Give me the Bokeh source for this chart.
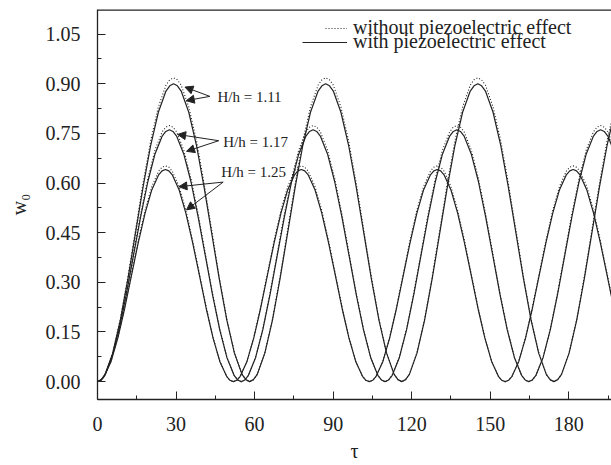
from bokeh.plotting import figure
from bokeh.embed import file_html
from bokeh.resources import INLINE
from bokeh.models import (Legend, LegendItem, Arrow, NormalHead, Label, Span,
                          SingleIntervalTicker, NumeralTickFormatter, Range1d)

# ---- data (tau, w0) ----
tau_111 = [0, 1.45, 2.9, 5.81, 8.72, 11.62, 14.53, 17.43, 20.34, 23.24, 26.15, 27.6, 29.05, 30.5, 31.96, 34.86, 37.77, 40.67, 43.58, 46.48, 49.39, 52.29, 55.2, 56.65,
           58.1, 59.55, 61.01, 63.91, 66.82, 69.72, 72.63, 75.53, 78.44, 81.34, 84.25, 85.7, 87.15, 88.6, 90.06, 92.96, 95.87, 98.77, 101.68, 104.58, 107.49, 110.39, 113.3, 114.75,
           116.2, 117.65, 119.11, 122.01, 124.92, 127.82, 130.73, 133.63, 136.54, 139.44, 142.35, 143.8, 145.25, 146.7, 148.16, 151.06, 153.97, 156.87, 159.78, 162.68, 165.59, 168.49, 171.4, 172.85,
           174.3, 175.75, 177.21, 180.11, 183.02, 185.92, 188.83, 191.73, 194.64, 197.54]
w_with_111 = [0, .006, .022, .086, .186, .311, .450, .589, .715, .814, .878, .894, .900, .894, .878, .814, .715, .589, .450, .311, .186, .086, .022, .006,
              0, .006, .022, .086, .186, .311, .450, .589, .715, .814, .878, .894, .900, .894, .878, .814, .715, .589, .450, .311, .186, .086, .022, .006,
              0, .006, .022, .086, .186, .311, .450, .589, .715, .814, .878, .894, .900, .894, .878, .814, .715, .589, .450, .311, .186, .086, .022, .006,
              0, .006, .022, .086, .186, .311, .450, .589, .715, .814]
w_without_111 = [0, .006, .022, .088, .189, .317, .459, .601, .729, .830, .896, .912, .918, .912, .896, .830, .729, .601, .459, .317, .189, .088, .022, .006,
                 0, .006, .022, .088, .189, .317, .459, .601, .729, .830, .896, .912, .918, .912, .896, .830, .729, .601, .459, .317, .189, .088, .022, .006,
                 0, .006, .022, .088, .189, .317, .459, .601, .729, .830, .896, .912, .918, .912, .896, .830, .729, .601, .459, .317, .189, .088, .022, .006,
                 0, .006, .022, .088, .189, .317, .459, .601, .729, .830]

tau_117 = [0, 1.37, 2.75, 5.49, 8.24, 10.98, 13.73, 16.47, 19.22, 21.96, 24.71, 26.08, 27.45, 28.82, 30.2, 32.94, 35.69, 38.43, 41.18, 43.92, 46.67, 49.41, 52.16, 53.53,
           54.9, 56.27, 57.65, 60.39, 63.14, 65.88, 68.63, 71.37, 74.12, 76.86, 79.61, 80.98, 82.35, 83.72, 85.1, 87.84, 90.59, 93.33, 96.08, 98.82, 101.57, 104.31, 107.06, 108.43,
           109.8, 111.17, 112.55, 115.29, 118.04, 120.78, 123.53, 126.27, 129.02, 131.76, 134.51, 135.88, 137.25, 138.62, 140.0, 142.74, 145.49, 148.23, 150.98, 153.72, 156.47, 159.21, 161.96, 163.33,
           164.7, 166.07, 167.45, 170.19, 172.94, 175.68, 178.43, 181.17, 183.92, 186.66, 189.41, 190.78, 192.15, 193.52, 194.9, 197.64]
w_with_117 = [0, .005, .019, .073, .157, .263, .381, .498, .604, .688, .742, .756, .761, .756, .742, .688, .604, .498, .381, .263, .157, .073, .019, .005,
              0, .005, .019, .073, .157, .263, .381, .498, .604, .688, .742, .756, .761, .756, .742, .688, .604, .498, .381, .263, .157, .073, .019, .005,
              0, .005, .019, .073, .157, .263, .381, .498, .604, .688, .742, .756, .761, .756, .742, .688, .604, .498, .381, .263, .157, .073, .019, .005,
              0, .005, .019, .073, .157, .263, .381, .498, .604, .688, .742, .756, .761, .756, .742, .688]
w_without_117 = [0, .005, .019, .074, .160, .267, .387, .507, .614, .700, .755, .769, .774, .769, .755, .700, .614, .507, .387, .267, .160, .074, .019, .005,
                 0, .005, .019, .074, .160, .267, .387, .507, .614, .700, .755, .769, .774, .769, .755, .700, .614, .507, .387, .267, .160, .074, .019, .005,
                 0, .005, .019, .074, .160, .267, .387, .507, .614, .700, .755, .769, .774, .769, .755, .700, .614, .507, .387, .267, .160, .074, .019, .005,
                 0, .005, .019, .074, .160, .267, .387, .507, .614, .700, .755, .769, .774, .769, .755, .700]

tau_125 = [0, 1.3, 2.6, 5.19, 7.79, 10.38, 12.98, 15.57, 18.17, 20.76, 23.36, 24.65, 25.95, 27.25, 28.55, 31.14, 33.74, 36.33, 38.93, 41.52, 44.12, 46.71, 49.31, 50.6,
           51.9, 53.2, 54.5, 57.09, 59.69, 62.28, 64.88, 67.47, 70.07, 72.66, 75.26, 76.55, 77.85, 79.15, 80.45, 83.04, 85.64, 88.23, 90.83, 93.42, 96.02, 98.61, 101.21, 102.5,
           103.8, 105.1, 106.4, 108.99, 111.59, 114.18, 116.78, 119.37, 121.97, 124.56, 127.16, 128.45, 129.75, 131.05, 132.35, 134.94, 137.54, 140.13, 142.73, 145.32, 147.92, 150.51, 153.11, 154.4,
           155.7, 157.0, 158.3, 160.89, 163.49, 166.08, 168.68, 171.27, 173.87, 176.46, 179.06, 180.35, 181.65, 182.95, 184.25, 186.84, 189.44, 192.03, 194.63, 197.22]
w_with_125 = [0, .004, .016, .061, .132, .221, .321, .420, .509, .580, .625, .637, .641, .637, .625, .580, .509, .420, .321, .221, .132, .061, .016, .004,
              0, .004, .016, .061, .132, .221, .321, .420, .509, .580, .625, .637, .641, .637, .625, .580, .509, .420, .321, .221, .132, .061, .016, .004,
              0, .004, .016, .061, .132, .221, .321, .420, .509, .580, .625, .637, .641, .637, .625, .580, .509, .420, .321, .221, .132, .061, .016, .004,
              0, .004, .016, .061, .132, .221, .321, .420, .509, .580, .625, .637, .641, .637, .625, .580, .509, .420, .321, .221]
w_without_125 = [0, .004, .016, .062, .134, .225, .326, .427, .518, .590, .636, .648, .652, .648, .636, .590, .518, .427, .326, .225, .134, .062, .016, .004,
                 0, .004, .016, .062, .134, .225, .326, .427, .518, .590, .636, .648, .652, .648, .636, .590, .518, .427, .326, .225, .134, .062, .016, .004,
                 0, .004, .016, .062, .134, .225, .326, .427, .518, .590, .636, .648, .652, .648, .636, .590, .518, .427, .326, .225, .134, .062, .016, .004,
                 0, .004, .016, .062, .134, .225, .326, .427, .518, .590, .636, .648, .652, .648, .636, .590, .518, .427, .326, .225]

series_labels = ["without piezoelectric effect", "with piezoelectric effect"]
ratio_labels = ["H/h = 1.11", "H/h = 1.17", "H/h = 1.25"]
label_pos_tau = [45.8, 48.0, 47.3]
label_pos_w = [0.859, 0.723, 0.633]
arrow_tail = [(42.9, 0.862), (46.3, 0.728), (48.0, 0.603)]
arrow_tips = [[(33.4, 0.890), (33.9, 0.849)],
              [(30.6, 0.747), (34.0, 0.696)],
              [(31.1, 0.589), (34.0, 0.519)]]
x_title = "\u03c4"
y_title = "w\u2080"

FONT = "Times New Roman"
INK = "#222222"

p = figure(width=611, height=465, output_backend="svg", toolbar_location=None,
           x_range=Range1d(0, 196.3), y_range=Range1d(-0.054, 1.1245),
           min_border_left=97, min_border_right=0, min_border_top=9, min_border_bottom=66)
p.outline_line_color = None
p.grid.visible = False

lines = {}
for key, t, ws, wo in [("111", tau_111, w_with_111, w_without_111),
                       ("117", tau_117, w_with_117, w_without_117),
                       ("125", tau_125, w_with_125, w_without_125)]:
    lines["wo" + key] = p.line(t, wo, line_color=INK, line_width=1.1, line_dash="1 2")
    lines["w" + key] = p.line(t, ws, line_color=INK, line_width=1.2)

# top frame line
p.add_layout(Span(location=1.1245, dimension="width", line_color=INK, line_width=2.5))

p.xaxis.ticker = SingleIntervalTicker(interval=30, num_minor_ticks=2)
p.yaxis.ticker = SingleIntervalTicker(interval=0.15, num_minor_ticks=2)
p.yaxis.formatter = NumeralTickFormatter(format="0.00")
for ax in (p.xaxis[0], p.yaxis[0]):
    ax.major_label_text_font = FONT
    ax.axis_label_text_font = FONT
    ax.major_label_text_font_size = "20px"
    ax.axis_label_text_font_size = "20px"
    ax.axis_label_text_font_style = "normal"
    ax.major_label_text_color = INK
    ax.axis_label_text_color = INK
    ax.axis_line_color = INK
    ax.axis_line_width = 1.3
    ax.major_tick_line_color = INK
    ax.minor_tick_line_color = INK
    ax.major_tick_in = 8
    ax.major_tick_out = 0
    ax.minor_tick_in = 4
    ax.minor_tick_out = 0
p.yaxis.major_label_standoff = 17
p.xaxis.major_label_standoff = 17
p.yaxis.axis_label = y_title
p.yaxis.axis_label_standoff = 13
p.xaxis.axis_label = x_title
p.xaxis.axis_label_standoff = 6

leg_style = dict(glyph_height=16, label_height=16, border_line_color=None,
                 background_fill_alpha=0, padding=0, margin=0, spacing=0,
                 label_text_font=FONT, label_text_font_size="20px",
                 label_text_color=INK, label_standoff=6)
leg1 = Legend(items=[LegendItem(label=series_labels[0], renderers=[lines["wo111"]])],
              location=(228, 360), glyph_width=22, **leg_style)
leg2 = Legend(items=[LegendItem(label=series_labels[1], renderers=[lines["w111"]])],
              location=(205, 346), glyph_width=45, **leg_style)
p.add_layout(leg1)
p.add_layout(leg2)

for i in range(3):
    p.add_layout(Label(x=label_pos_tau[i], y=label_pos_w[i], text=ratio_labels[i],
                       text_font=FONT, text_font_size="15px", text_color=INK,
                       text_baseline="middle", text_align="left"))
    for tip in arrow_tips[i]:
        p.add_layout(Arrow(x_start=arrow_tail[i][0], y_start=arrow_tail[i][1],
                           x_end=tip[0], y_end=tip[1], line_color=INK, line_width=1,
                           end=NormalHead(size=8, fill_color=INK, line_color=INK)))

open("out.html", "w").write(file_html(p, INLINE))
